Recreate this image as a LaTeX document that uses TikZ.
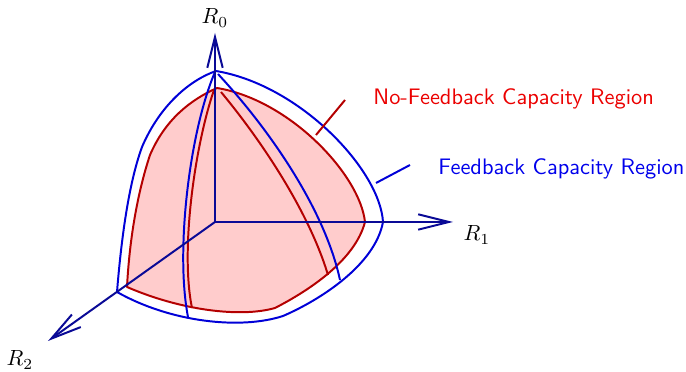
\documentclass[tikz,border=0pt]{standalone}
\usepackage{tikz}
\usetikzlibrary{arrows.meta}

\definecolor{axisblue}{RGB}{10,10,150}
\definecolor{fbblue}{RGB}{0,0,215}
\definecolor{nofbred}{RGB}{180,0,0}
\definecolor{labelred}{RGB}{235,0,0}
\definecolor{labelblue}{RGB}{0,0,235}
\definecolor{regionfill}{RGB}{255,204,204}

\begin{document}
\begin{tikzpicture}[
  x=0.016cm, y=-0.016cm,
  axis/.style={draw=axisblue, line width=0.9pt, -{Straight Barb[length=14pt,width=7pt]}},
  fbline/.style={draw=fbblue, line width=0.9pt},
  nofbline/.style={draw=nofbred, line width=0.9pt},
  nofbfill/.style={fill=regionfill, draw=nofbred, line width=0.9pt},
  axislabel/.style={inner sep=1pt},
  regionlabel/.style={font=\sffamily\fontsize{10.2pt}{12pt}\selectfont, anchor=west, inner sep=0pt}
]
\useasboundingbox (0,0) rectangle (686,372);

% ========== Axis points ==========
\coordinate (O) at (215,222);
\coordinate (r0tip) at (215,33);
\coordinate (r1tip) at (453,222);
\coordinate (r2tip) at (48,341);

% ========== No-feedback region (filled) ==========
\path[nofbfill, line join=round]
  (217,88) .. controls (290,100) and (360,175) .. (365,222)
  .. controls (355,260) and (310,290) .. (275,308)
  .. controls (240,318) and (180,310) .. (127,287)
  .. controls (130,230) and (140,185) .. (150,155)
  .. controls (165,120) and (190,100) .. (217,88)
  -- cycle;

% ===== Red meridians =====
\draw[nofbline] (214,90) .. controls (195,145) and (180,250) .. (192,308);
\draw[nofbline] (221,92) .. controls (265,145) and (310,215) .. (328,275);

% ========== Feedback region (outline) ==========
\draw[fbline, line join=round]
  (216,71) .. controls (300,85) and (380,170) .. (383,222)
  .. controls (375,265) and (320,300) .. (283,316)
  .. controls (240,330) and (170,322) .. (117,292)
  .. controls (122,230) and (130,180) .. (142,147)
  .. controls (160,105) and (190,80) .. (216,71);

% ===== Blue meridians =====
\draw[fbline] (215,72) .. controls (190,130) and (175,250) .. (188,317);
\draw[fbline] (218,74) .. controls (270,130) and (325,210) .. (340,280);

% ========== Axes ==========
\draw[axis] (O) -- (r0tip);
\draw[axis] (O) -- (r1tip);
\draw[axis] (O) -- (r2tip);

\node[axislabel] (r0) at (215,18) {$R_0$};
\node[axislabel] (r1) at (477,235) {$R_1$};
\node[axislabel] (r2) at (20,360) {$R_2$};

% ========== Region labels ==========
\node[regionlabel, text=labelred] (nofb) at (373,99) {No-Feedback Capacity Region};
\node[regionlabel, text=labelblue] (fb) at (438,169) {Feedback Capacity Region};

\coordinate (nofbA) at (316,135);
\coordinate (nofbB) at (345,100);
\coordinate (fbA) at (376,183);
\coordinate (fbB) at (410,165);
\draw[nofbline] (nofbA) -- (nofbB);
\draw[fbline] (fbA) -- (fbB);

\end{tikzpicture}
\end{document}
